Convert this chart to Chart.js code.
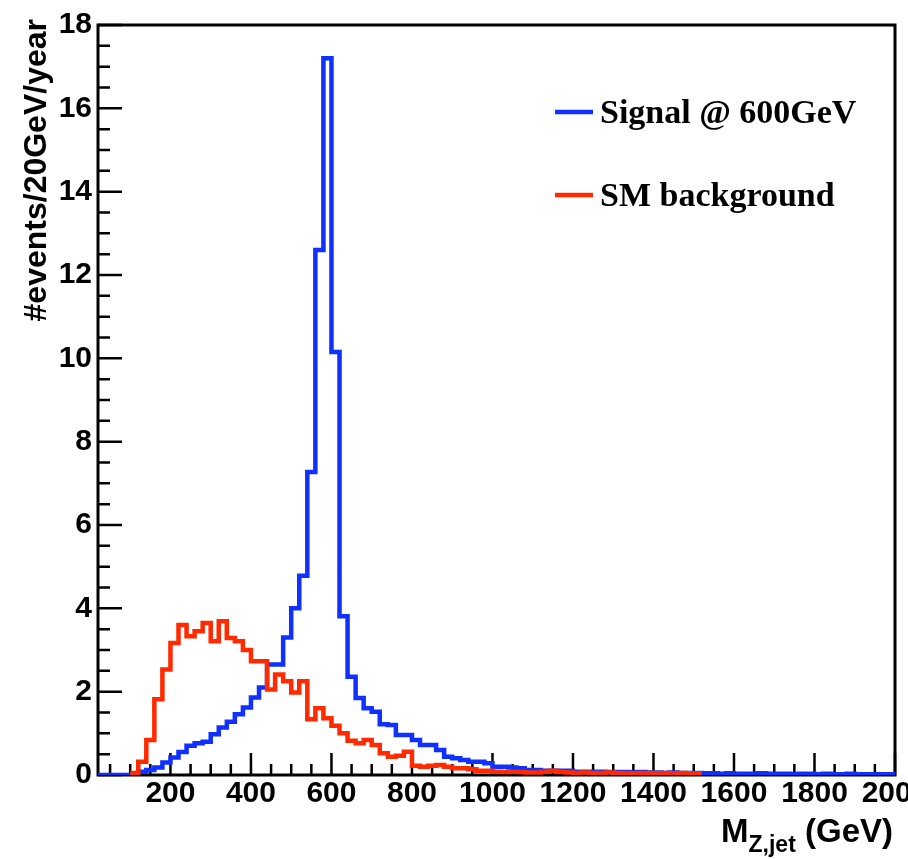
<!DOCTYPE html>
<html>
<head>
<meta charset="utf-8">
<title>M Z,jet histogram</title>
<script src="https://cdn.jsdelivr.net/npm/chart.js@4.4.1/dist/chart.umd.min.js"></script>
<style>
  html, body { margin: 0; padding: 0; background: #fff; }
  canvas { display: block; }
</style>
</head>
<body>
<canvas id="chart" width="908" height="859"></canvas>
<script>
// 20 GeV bins
const binWidth = 20;

// Signal @ 600GeV, bins starting at 20 GeV (20-40, 40-60, ... 1980-2000)
const signalStart = 20;
const signalValues = [
  0, 0, 0, 0, 0, 0.08, 0.12, 0.18, 0.3, 0.42,
  0.55, 0.7, 0.76, 0.8, 0.98, 1.14, 1.28, 1.46, 1.62, 1.86,
  2.1, 2.65, 2.65, 3.3, 4.0, 4.78, 7.27, 12.6, 17.2, 10.15,
  3.81, 2.36, 1.85, 1.6, 1.52, 1.22, 1.2, 0.96, 0.96, 0.84,
  0.72, 0.72, 0.6, 0.44, 0.4, 0.36, 0.32, 0.32, 0.28, 0.2,
  0.2, 0.18, 0.16, 0.12, 0.12, 0.1, 0.1, 0.1, 0.1, 0.08,
  0.08, 0.08, 0.08, 0.07, 0.07, 0.07, 0.06, 0.07, 0.06, 0.06,
  0.05, 0.06, 0.05, 0.05, 0.05, 0.04, 0.04, 0.03, 0.04, 0.03,
  0.03, 0.03, 0.04, 0.03, 0.03, 0.03, 0.02, 0.03, 0.03, 0.02,
  0.03, 0.02, 0.02, 0.03, 0.02, 0.02, 0.02, 0.02, 0.02
];

// SM background, bins starting at 100 GeV (100-120 ... 1500-1520)
const backgroundStart = 100;
const backgroundValues = [
  0.05, 0.32, 0.84, 1.82, 2.53, 3.17, 3.6, 3.33, 3.45, 3.65,
  3.21, 3.69, 3.29, 3.21, 3.0, 2.73, 2.73, 2.05, 2.41, 2.25,
  1.98, 2.25, 1.34, 1.6, 1.36, 1.18, 1.0, 0.82, 0.76, 0.84,
  0.72, 0.52, 0.44, 0.46, 0.56, 0.22, 0.2, 0.22, 0.24, 0.2,
  0.16, 0.16, 0.14, 0.1, 0.1, 0.08, 0.07, 0.08, 0.07, 0.06,
  0.06, 0.08, 0.1, 0.07, 0.06, 0.05, 0.06, 0.05, 0.05, 0.06,
  0.05, 0.05, 0.04, 0.05, 0.05, 0.04, 0.05, 0.04, 0.05, 0.04,
  0.04
];

const seriesLabels = ['Signal @ 600GeV', 'SM background'];
const xRange = [20, 2000];
const yRange = [0, 18];
const xMajorTicks = [200, 400, 600, 800, 1000, 1200, 1400, 1600, 1800, 2000];
const yMajorTicks = [0, 2, 4, 6, 8, 10, 12, 14, 16, 18];
const xMinorStep = 50;
const yMinorStep = 0.5;

const blue = '#0f30ff';
const red = '#ff2a00';

// histogram outline: one point per low edge, plus the last high edge
function histPoints(start, values) {
  const pts = values.map((v, i) => ({ x: start + i * binWidth, y: v }));
  pts.push({ x: start + values.length * binWidth, y: values[values.length - 1] });
  return pts;
}

function stepTicks(lo, hi, step) {
  const out = [];
  for (let v = Math.ceil(lo / step) * step; v <= hi + 1e-9; v += step) {
    out.push({ value: Math.round(v * 100) / 100 });
  }
  return out;
}

Chart.defaults.font.family = '"Liberation Sans", Arial, sans-serif';
Chart.defaults.font.weight = 'bold';
Chart.defaults.color = '#000';

// ROOT-like frame, inner ticks, legend and axis titles
const rootStyle = {
  id: 'rootStyle',
  beforeDatasetsDraw(chart) {
    const { ctx, chartArea: a, scales: { x, y } } = chart;
    ctx.save();
    ctx.strokeStyle = '#000';
    ctx.lineWidth = 2.5;
    ctx.beginPath();
    x.ticks.forEach(t => {
      const px = x.getPixelForValue(t.value);
      const len = xMajorTicks.includes(t.value) ? 22 : 11;
      ctx.moveTo(px, a.bottom);
      ctx.lineTo(px, a.bottom - len);
    });
    y.ticks.forEach(t => {
      const py = y.getPixelForValue(t.value);
      const len = yMajorTicks.includes(t.value) ? 24 : 12;
      ctx.moveTo(a.left, py);
      ctx.lineTo(a.left + len, py);
    });
    ctx.stroke();
    ctx.lineWidth = 3;
    ctx.strokeRect(a.left, a.top, a.right - a.left, a.bottom - a.top);
    ctx.restore();
  },
  afterDraw(chart) {
    const { ctx, chartArea: a } = chart;
    ctx.save();

    // legend
    ctx.font = 'bold 34px "Liberation Serif", "Times New Roman", serif';
    ctx.textBaseline = 'alphabetic';
    ctx.textAlign = 'left';
    seriesLabels.forEach((label, i) => {
      const ds = chart.data.datasets[i];
      const yy = 112 + i * 83;
      ctx.strokeStyle = ds.borderColor;
      ctx.lineWidth = 4.5;
      ctx.beginPath();
      ctx.moveTo(555, yy);
      ctx.lineTo(593, yy);
      ctx.stroke();
      ctx.fillStyle = '#000';
      ctx.fillText(ds.label, 600, yy + 11);
    });

    // y title
    ctx.font = 'bold 32px "Liberation Sans", Arial, sans-serif';
    ctx.save();
    ctx.translate(46, a.top - 6);
    ctx.rotate(-Math.PI / 2);
    ctx.textAlign = 'right';
    ctx.fillText('#events/20GeV/year', 0, 0);
    ctx.restore();

    // x title: M_{Z,jet} (GeV), right aligned at the axis end
    const big = 'bold 33px "Liberation Sans", Arial, sans-serif';
    const small = 'bold 23px "Liberation Sans", Arial, sans-serif';
    ctx.textAlign = 'left';
    ctx.font = big;
    const wM = ctx.measureText('M').width;
    const wUnit = ctx.measureText(' (GeV)').width;
    ctx.font = small;
    const wSub = ctx.measureText('Z,jet').width;
    let xx = a.right - 2 - (wM + wSub + wUnit);
    const base = 842;
    ctx.font = big;
    ctx.fillText('M', xx, base);
    xx += wM;
    ctx.font = small;
    ctx.fillText('Z,jet', xx, base + 10);
    xx += wSub;
    ctx.font = big;
    ctx.fillText(' (GeV)', xx, base);

    ctx.restore();
  }
};

new Chart(document.getElementById('chart'), {
  type: 'line',
  data: {
    datasets: [
      {
        label: seriesLabels[0],
        data: histPoints(signalStart, signalValues),
        borderColor: blue,
        borderWidth: 4.5,
        stepped: 'before',
        pointRadius: 0,
        fill: false,
        borderJoinStyle: 'miter',
        order: 2
      },
      {
        label: seriesLabels[1],
        data: histPoints(backgroundStart, backgroundValues),
        borderColor: red,
        borderWidth: 4.5,
        stepped: 'before',
        pointRadius: 0,
        fill: false,
        borderJoinStyle: 'miter',
        order: 1
      }
    ]
  },
  options: {
    responsive: false,
    animation: false,
    devicePixelRatio: 1,
    layout: { padding: { left: 0, top: 25, right: 13, bottom: 0 } },
    plugins: {
      legend: { display: false },
      tooltip: { enabled: false }
    },
    scales: {
      x: {
        type: 'linear',
        min: xRange[0],
        max: xRange[1],
        grid: { display: false, drawTicks: false },
        border: { display: false },
        afterBuildTicks: (axis) => { axis.ticks = stepTicks(xRange[0], xRange[1], xMinorStep); },
        afterFit: (axis) => { axis.height = 84; axis.paddingLeft = 0; axis.paddingRight = 0; },
        ticks: {
          autoSkip: false,
          maxRotation: 0,
          minRotation: 0,
          padding: 1,
          font: { size: 30, weight: 'bold' },
          callback: (v) => (xMajorTicks.includes(v) ? String(v) : '')
        }
      },
      y: {
        type: 'linear',
        min: yRange[0],
        max: yRange[1],
        grid: { display: false, drawTicks: false },
        border: { display: false },
        afterBuildTicks: (axis) => { axis.ticks = stepTicks(yRange[0], yRange[1], yMinorStep); },
        afterFit: (axis) => { axis.width = 98; },
        ticks: {
          autoSkip: false,
          padding: 6,
          font: { size: 30, weight: 'bold' },
          callback: (v) => (yMajorTicks.includes(v) ? String(v) : '')
        }
      }
    }
  },
  plugins: [rootStyle]
});
</script>
</body>
</html>
